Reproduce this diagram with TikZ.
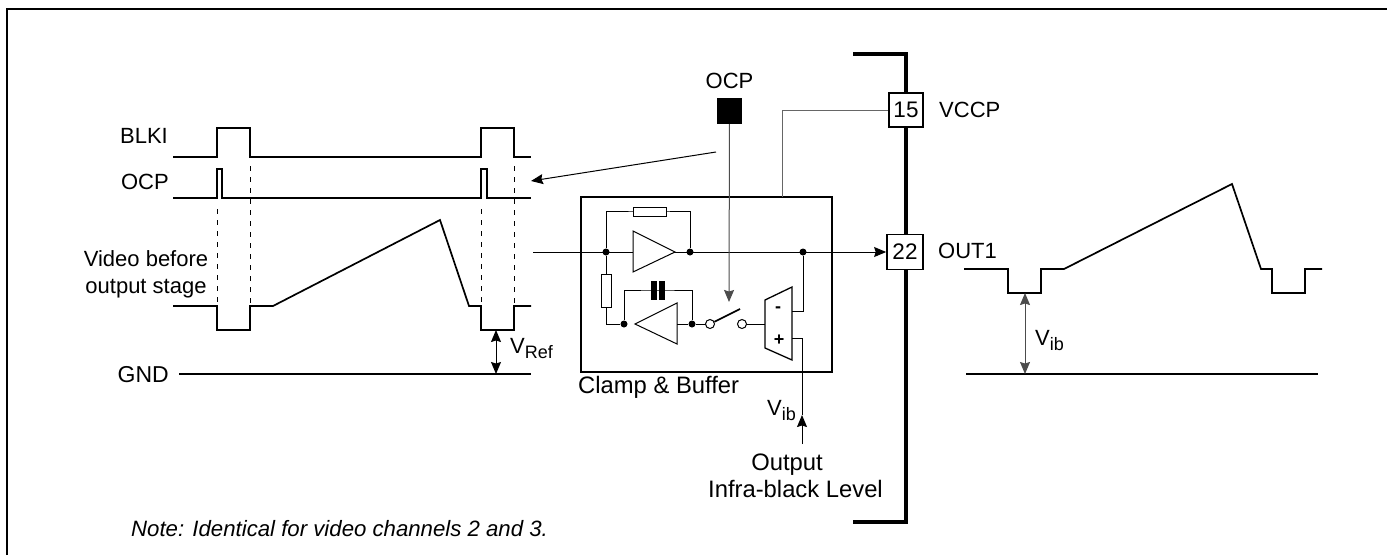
\documentclass[tikz,border=0pt]{standalone}
\usepackage{fontspec}
\setmainfont{Liberation Sans}
\usetikzlibrary{arrows.meta}
\newcommand{\subt}[1]{\raisebox{-5pt}{\fontsize{18}{18}\selectfont #1}}
\tikzset{
	wave/.style={line width=1.7pt},
	wire/.style={line width=1pt},
	greywire/.style={line width=1pt,black!60},
	sig/.style={line width=1pt,-{Stealth[length=12pt,width=10pt,inset=1.5pt]}},
	both/.style={line width=1pt,{Stealth[length=12pt,width=10pt,inset=1.5pt]}-{Stealth[length=12pt,width=10pt,inset=1.5pt]}},
	guide/.style={line width=0.9pt,dash pattern=on 5pt off 6pt},
	dot/.style={circle,fill=black,inner sep=0pt,minimum size=7pt},
	hole/.style={circle,draw,fill=white,line width=1pt,inner sep=0pt,minimum size=9pt},
	pin/.style={draw,fill=white,line width=1.7pt,inner sep=0pt,font=\fontsize{22.5}{22.5}\selectfont},
	lbl/.style={inner sep=0pt,font=\fontsize{22}{27}\selectfont},
	biglbl/.style={inner sep=0pt,font=\fontsize{23.8}{27}\selectfont},
	res/.style={draw,fill=white,line width=1pt,inner sep=0pt},
}
\begin{document}
\begin{tikzpicture}[x=1pt,y=-1pt]
	\useasboundingbox (0,0) rectangle (1387,555);
	% frame
	\draw[line width=2pt] (7,555) -- (7,9) -- (1387,9);
	% waveforms, left
	\draw[wave] (173,157) -- (217,157) -- (217,128) -- (250,128) -- (250,157) -- (481,157) -- (481,128) -- (514,128) -- (514,157) -- (531,157);
	\draw[wave] (173,198) -- (217,198) -- (217,169) -- (222,169) -- (222,198) -- (481,198) -- (481,169) -- (487,169) -- (487,198) -- (531,198);
	\draw[wave] (173,306) -- (217,306) -- (217,330) -- (250,330) -- (250,306) -- (273,306) -- (440,220) -- (469,306) -- (481,306) -- (481,330) -- (514,330) -- (514,306) -- (531,306);
	\draw[wave] (179,374) -- (531,374);
	\foreach \xa/\ya in {217/209,250/166,481/209,514/166}
		\draw[guide] (\xa,\ya) -- (\xa,306);
	\coordinate (refa) at (496,330);
	\coordinate (refb) at (496,374);
	\draw[both] (refa) -- (refb);
	\node[lbl,anchor=base east] (lblki) at (168,143) {BLKI};
	\node[lbl,anchor=base east] (locp) at (169,189) {OCP};
	\node[lbl,align=center,anchor=center] (lvideo) at (146,274) {Video before\\output stage};
	\node[lbl,anchor=base east,font=\fontsize{23}{27}\selectfont] (lgnd) at (169,382) {GND};
	\node[lbl,anchor=base west] (lvref) at (510,353) {V\subt{Ref}};
	% pins
	\draw[line width=4.3pt] (853,54) -- (906,54) -- (906,522) -- (853,522);
	\node[pin,minimum width=34pt,minimum height=34pt] (pina) at (906,110) {15};
	\node[pin,minimum width=36pt,minimum height=35pt] (pinb) at (905,252) {22};
	\node[lbl,anchor=base west] (lvccp) at (939,117) {VCCP};
	\node[lbl,anchor=base west] (lout) at (938,258) {OUT1};
	% clamp and buffer
	\node[draw,line width=1.7pt,minimum width=251pt,minimum height=175pt,inner sep=0pt] (clamp) at (706.5,284.5) {};
	\node[biglbl,anchor=base west] (lclamp) at (578,393) {Clamp \& Buffer};
	\node[lbl,anchor=base] (locpb) at (729.5,88) {OCP};
	\node[fill=black,minimum width=25pt,minimum height=26pt,inner sep=0pt] (ocpin) at (729.5,111) {};
	\coordinate (ocpfree) at (716,152);
	\coordinate (ocpend) at (531,181);
	\draw[sig] (ocpfree) -- (ocpend);
	\draw[greywire] (pina.west) -| (782,197);
	% amplifiers
	\coordinate (ina) at (533,252);
	\node[dot] (da) at (606,252) {};
	\node[dot] (db) at (690,252) {};
	\node[dot] (dc) at (803,252) {};
	\node[dot] (dd) at (624,324) {};
	\node[dot] (de) at (692,324) {};
	\draw[sig] (ina) -- (pinb.west);
	\draw[wire,fill=white] (633,231) -- (675,252) -- (633,272) -- cycle;
	\draw[wire] (da) |- (650,211) -- (690,211) -- (db);
	\node[res,minimum width=33pt,minimum height=9pt] (ra) at (649.5,211.5) {};
	\draw[wire] (da) |- (dd);
	\node[res,minimum width=10pt,minimum height=33pt] (rb) at (606.5,290.5) {};
	\draw[wire] (dd) |- (657,290) -| (de);
	\node[fill=black,minimum width=6pt,minimum height=19pt,inner sep=0pt] (ca) at (654,290.5) {};
	\node[fill=black,minimum width=6pt,minimum height=19pt,inner sep=0pt] (cb) at (661.5,290.5) {};
	\draw[wire,fill=white] (635,324) -- (677,303) -- (677,344) -- cycle;
	\draw[wire] (677,324) -- (de);
	% switch
	\draw[wire] (de) -- (710,324);
	\draw[wire] (742,324) -- (765,324);
	\node[hole] (sa) at (710,324) {};
	\node[hole] (sb) at (742,324) {};
	\draw[line width=1.7pt] (sa) -- (740,309);
	% comparator
	\draw[line width=1.3pt] (765,300) -- (792,287) -- (792,360) -- (765,348) -- cycle;
	\node[lbl,font=\bfseries\fontsize{18}{18}\selectfont] (lminus) at (778,310) {-};
	\node[lbl,font=\bfseries\fontsize{18}{18}\selectfont] (lplus) at (779,340) {+};
	\draw[wire] (dc) |- (792,311);
	\coordinate (vibend) at (802,444);
	\coordinate (vibtip) at (802,415);
	\draw[wire] (792,338) -- (802,338) -- (vibtip);
	\draw[sig] (vibend) -- (vibtip);
	\draw[sig,black!70] (ocpin) -- (729,302);
	\node[lbl,anchor=base west] (lvib) at (767,415) {V\subt{ib}};
	\node[biglbl,anchor=base] (loutp) at (787,470) {Output};
	\node[biglbl,anchor=base] (linfra) at (795.5,497) {Infra-black Level};
	% waveform, right
	\draw[wave] (964,269) -- (1008,269) -- (1008,293) -- (1041,293) -- (1041,269) -- (1064,269) -- (1232,184) -- (1261,269) -- (1272,269) -- (1272,293) -- (1305,293) -- (1305,269) -- (1322,269);
	\draw[wave] (966,374) -- (1318,374);
	\coordinate (iba) at (1025,293);
	\coordinate (ibb) at (1025,374);
	\draw[both,black!70] (iba) -- (ibb);
	\node[lbl,anchor=base west] (lviba) at (1035,345) {V\subt{ib}};
	% note
	\node[lbl,anchor=base west,font=\itshape\fontsize{22.2}{26}\selectfont] (lnote) at (131,536) {Note: Identical for video channels 2 and 3.};
\end{tikzpicture}
\end{document}
